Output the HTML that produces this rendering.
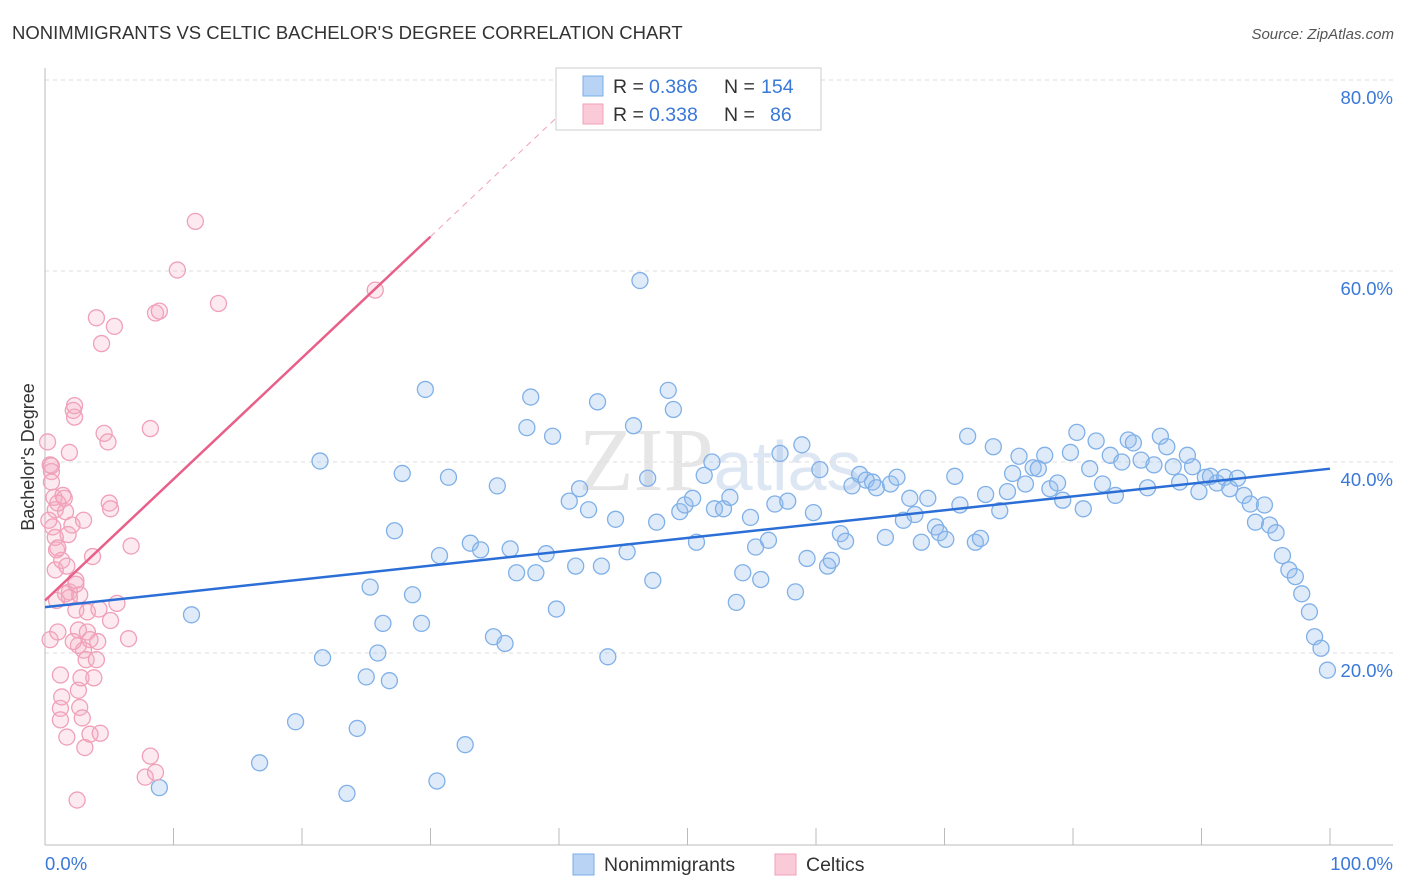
<!DOCTYPE html>
<html><head><meta charset="utf-8"><style>
body{margin:0;background:#fff;font-family:"Liberation Sans",sans-serif;}
svg{display:block}
</style></head><body>
<svg id="chart" width="1406" height="892" xmlns="http://www.w3.org/2000/svg">
<text x="12" y="39" font-size="18.5" fill="#333">NONIMMIGRANTS VS CELTIC BACHELOR'S DEGREE CORRELATION CHART</text>
<text x="1394" y="39" font-size="15" fill="#555" font-style="italic" text-anchor="end">Source: ZipAtlas.com</text>
<text x="720" y="490" font-size="90" fill="#e6e6e6" text-anchor="middle" font-family="Liberation Serif,serif">ZIP<tspan fill="#dde6f3" font-family="Liberation Sans,sans-serif" font-size="70">atlas</tspan></text>
<g id="grid"></g>
<g id="axes"></g>
<g id="marks"></g>
<text transform="translate(34,457) rotate(-90)" font-size="18" fill="#333" text-anchor="middle">Bachelor's Degree</text>
<g>
<rect x="556" y="68" width="265" height="62" fill="#fff" stroke="#ccc"/>
<rect x="583" y="76" width="20" height="20" fill="#b8d3f3" stroke="#7aaee8"/>
<rect x="583" y="104" width="20" height="20" fill="#fbcad8" stroke="#f0a0b8"/>
<text x="613" y="93" font-size="19.5" fill="#333">R =</text>
<text x="649" y="93" font-size="19.5" fill="#3a78d8">0.386</text>
<text x="724" y="93" font-size="19.5" fill="#333">N =</text>
<text x="761" y="93" font-size="19.5" fill="#3a78d8">154</text>
<text x="613" y="121" font-size="19.5" fill="#333">R =</text>
<text x="649" y="121" font-size="19.5" fill="#3a78d8">0.338</text>
<text x="724" y="121" font-size="19.5" fill="#333">N =</text>
<text x="770" y="121" font-size="19.5" fill="#3a78d8">86</text>
</g>
<g>
<rect x="573" y="854" width="21" height="21" fill="#b8d3f3" stroke="#7aaee8"/>
<text x="604" y="871" font-size="19.5" fill="#333">Nonimmigrants</text>
<rect x="775" y="854" width="21" height="21" fill="#fbcad8" stroke="#f0a0b8"/>
<text x="806" y="871" font-size="19.5" fill="#333">Celtics</text>
</g>
</svg>
<script>
const blueX=[8.9,11.4,16.7,19.5,21.4,21.6,23.5,24.3,25.0,25.3,25.9,26.3,26.8,27.2,27.8,28.6,29.3,29.6,30.5,30.7,31.4,32.7,33.1,33.9,34.9,35.2,35.8,36.2,36.7,37.8,37.5,38.2,39.0,39.5,39.8,40.8,41.3,41.6,42.3,43.0,43.3,43.8,44.4,45.3,45.8,46.3,46.9,47.3,47.6,48.5,48.9,49.4,49.8,50.4,50.7,51.3,51.9,52.1,52.8,53.3,53.8,54.3,54.9,55.3,55.7,56.3,56.8,57.2,57.8,58.4,58.9,59.3,59.8,60.3,60.9,61.2,61.9,62.3,62.8,63.4,63.9,64.4,64.7,65.4,65.8,66.3,66.8,67.3,67.7,68.2,68.7,69.3,69.6,70.1,70.8,71.2,71.8,72.4,72.8,73.2,73.8,74.3,74.9,75.3,75.8,76.3,76.9,77.3,77.8,78.2,78.8,79.2,79.8,80.3,80.8,81.3,81.8,82.3,82.9,83.3,83.8,84.3,84.7,85.3,85.8,86.3,86.8,87.3,87.8,88.3,88.9,89.3,89.8,90.3,90.7,91.2,91.8,92.2,92.8,93.3,93.8,94.2,94.9,95.3,95.8,96.3,96.8,97.3,97.8,98.4,98.8,99.3,99.8];
const blueY=[5.9,24.0,8.5,12.8,40.1,19.5,5.3,12.1,17.5,26.9,20.0,23.1,17.1,32.8,38.8,26.1,23.1,47.6,6.6,30.2,38.4,10.4,31.5,30.8,21.7,37.5,21.0,30.9,28.4,46.8,43.6,28.4,30.4,42.7,24.6,35.9,29.1,37.2,35.0,46.3,29.1,19.6,34.0,30.6,43.8,59.0,38.3,27.6,33.7,47.5,45.5,34.8,35.5,36.2,31.6,38.6,40.0,35.1,35.1,36.3,25.3,28.4,34.2,31.1,27.7,31.8,35.6,40.9,35.9,26.4,41.8,29.9,34.7,39.2,29.1,29.7,32.5,31.7,37.5,38.7,38.1,37.9,37.3,32.1,37.7,38.4,33.9,36.2,34.5,31.6,36.2,33.2,32.6,31.9,38.5,35.5,42.7,31.6,32.0,36.6,41.6,34.9,36.9,38.8,40.6,37.7,39.4,39.3,40.7,37.2,37.8,36.0,41.0,43.1,35.1,39.3,42.2,37.7,40.7,36.5,40.0,42.3,42.0,40.2,37.3,39.7,42.7,41.6,39.5,37.9,40.7,39.5,36.9,38.4,38.5,37.8,38.4,37.2,38.3,36.5,35.6,33.7,35.5,33.4,32.6,30.2,28.7,28.0,26.2,24.3,21.7,20.5,18.2];
const pinkX=[0.2,0.4,0.5,0.7,0.8,0.6,0.9,0.8,0.9,1.0,1.2,1.2,1.3,1.5,1.6,1.7,1.8,1.9,1.9,1.9,2.1,2.2,2.3,2.3,2.4,2.4,2.5,2.6,2.6,2.6,2.7,2.8,2.9,3.0,3.0,3.1,3.2,3.3,3.3,3.5,3.7,3.8,4.0,4.0,4.1,4.2,4.3,4.4,4.6,4.9,5.0,5.1,5.1,5.4,5.6,6.5,6.7,8.2,8.2,7.8,8.6,8.6,8.9,10.3,11.7,13.5,25.7,0.5,0.8,1.0,1.3,0.3,0.5,1.6,2.7,0.4,1.2,2.2,3.5,1.4,2.4,1.0,1.7];
const pinkY=[42.1,39.7,39.0,36.3,35.0,33.2,30.8,28.7,25.5,22.2,17.7,14.2,15.4,36.2,34.8,11.2,32.4,26.4,41.0,25.8,33.4,45.4,44.7,45.9,27.6,24.5,4.6,22.4,20.8,16.1,14.3,17.4,13.2,20.3,33.9,10.1,19.3,24.3,22.2,11.5,30.1,17.4,55.1,19.3,21.2,24.6,11.6,52.4,43.0,42.1,35.7,35.1,23.4,54.2,25.2,21.5,31.2,9.2,43.5,7.0,7.5,55.6,55.8,60.1,65.2,56.6,58.0,37.9,32.1,31.0,29.7,33.9,39.6,26.2,26.1,21.4,13.0,21.2,21.4,36.5,27.2,35.7,29.1];
const blueTrend=[24.8,39.3];
const pinkTrend=[25.5,63.6];
const yTicks=[20,40,60,80];
const yTickLabels=["20.0%","40.0%","60.0%","80.0%"];
const NS="http://www.w3.org/2000/svg";
const X0=45,X1=1330,Y0=844,YP=9.55;
const sx=v=>X0+(X1-X0)*v/100;
const sy=v=>Y0-v*YP;
function mk(parent,tag,attrs){const e=document.createElementNS(NS,tag);for(const k in attrs)e.setAttribute(k,attrs[k]);document.getElementById(parent).appendChild(e);return e;}
yTicks.forEach((t,i)=>{
 const g=mk('grid','line',{x1:45,x2:1393,y1:sy(t),y2:sy(t),stroke:'#ddd','stroke-dasharray':'4,4'});
 
 
 const l=mk('axes','text',{x:1393,y:sy(t)+24,'font-size':18.5,fill:'#3a78d8','text-anchor':'end'});
 l.textContent=yTickLabels[i];
 
 
});
const xa=mk('axes','line',{x1:45,x2:1393,y1:845,y2:845,stroke:'#bbb'});


const ya=mk('axes','line',{x1:45,x2:45,y1:68,y2:845,stroke:'#bbb'});


for(let i=1;i<=10;i++){const t=mk('axes','line',{x1:sx(i*10),x2:sx(i*10),y1:828,y2:845,stroke:'#bbb'});
 
 }
const xl0=mk('axes','text',{x:45,y:870,'font-size':18.5,fill:'#3a78d8'});xl0.textContent='0.0%';


const xl1=mk('axes','text',{x:1393,y:870,'font-size':18.5,fill:'#3a78d8','text-anchor':'end'});xl1.textContent='100.0%';


blueX.forEach((x,i)=>{const c=mk('marks','circle',{cx:sx(x),cy:sy(blueY[i]),r:8,fill:'rgba(150,190,235,0.3)',stroke:'#80b0e8','stroke-width':1.3});
 
 });
pinkX.forEach((x,i)=>{const c=mk('marks','circle',{cx:sx(x),cy:sy(pinkY[i]),r:8,fill:'rgba(245,170,195,0.25)',stroke:'#f0a0b8','stroke-width':1.3});
 
 });
const bt=mk('marks','line',{x1:sx(0),y1:sy(blueTrend[0]),x2:sx(100),y2:sy(blueTrend[1]),stroke:'#2b6fd6','stroke-width':2.5});


const slope=(pinkTrend[1]-pinkTrend[0])/30;
const pt=mk('marks','line',{x1:sx(0),y1:sy(pinkTrend[0]),x2:sx(30),y2:sy(pinkTrend[1]),stroke:'#e8608a','stroke-width':2.5});


const xe=(80-pinkTrend[0])/slope;
const pd=mk('marks','line',{x1:sx(30),y1:sy(pinkTrend[1]),x2:sx(xe),y2:sy(80),stroke:'#f0a0b8','stroke-width':1,'stroke-dasharray':'6,5'});


</script>
</body></html>
